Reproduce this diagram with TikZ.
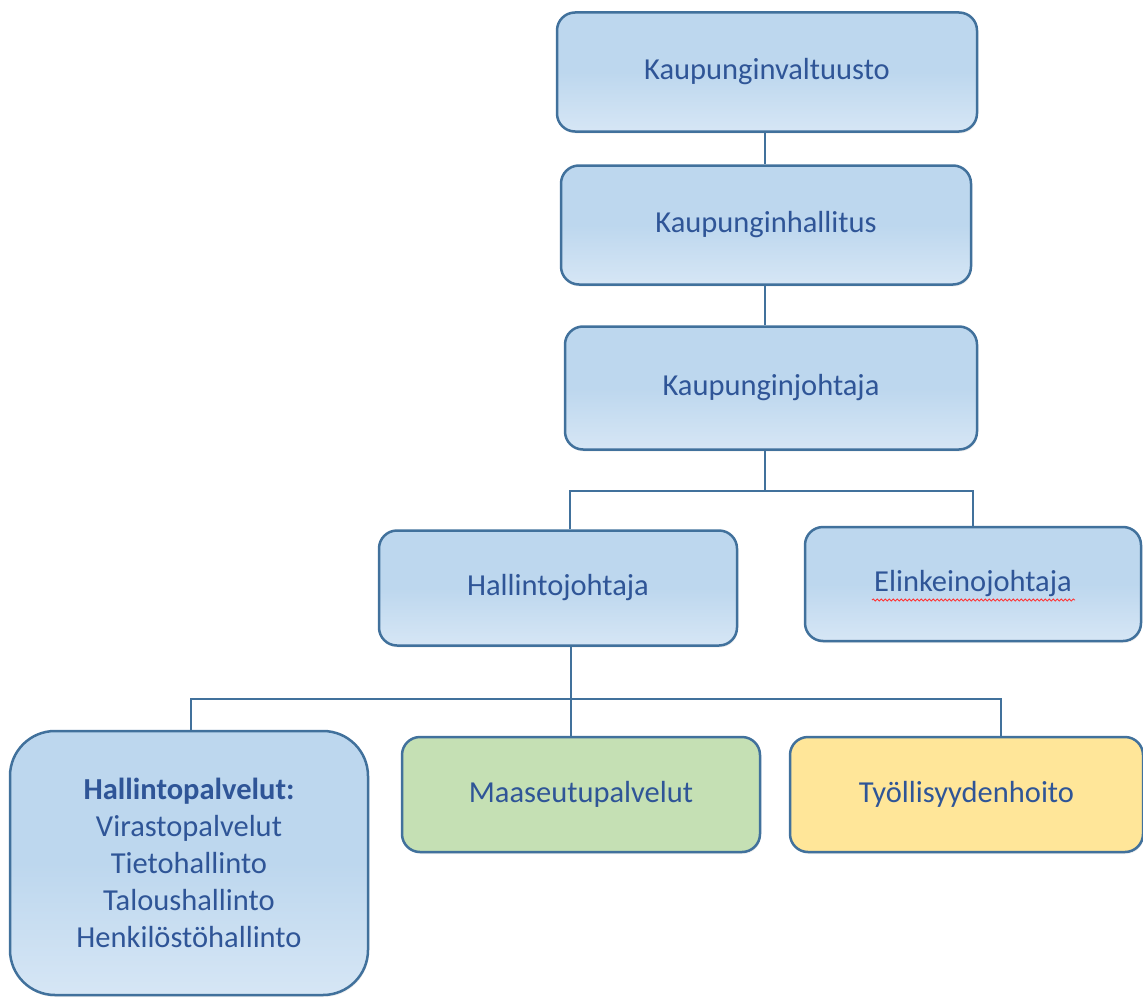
\documentclass[tikz,border=0pt]{standalone}
\usepackage{fontspec}
\setmainfont{Carlito}
\usetikzlibrary{decorations.pathmorphing,shadows}
\definecolor{bfill}{HTML}{BDD7EE}
\definecolor{bfilllight}{HTML}{D6E6F5}
\definecolor{gfill}{HTML}{C5E0B4}
\definecolor{yfill}{HTML}{FFE699}
\definecolor{bline}{HTML}{41719C}
\definecolor{tcol}{HTML}{2F5597}
\tikzset{
  orgbox/.style={draw=bline, line width=2.5pt, rounded corners=18pt,
    top color=bfill, bottom color=bfilllight, middle color=bfill,
    text=tcol, font=\fontsize{30.5}{37}\selectfont, align=center, inner sep=0pt,
    drop shadow={opacity=0.12, shadow xshift=1pt, shadow yshift=-2pt}},
  greenbox/.style={orgbox, top color=gfill, bottom color=gfill, middle color=gfill},
  yellowbox/.style={orgbox, top color=yfill, bottom color=yfill, middle color=yfill},
  conn/.style={draw=bline, line width=2.5pt},
  squiggle/.style={draw=red!80, line width=0.8pt, decorate,
    decoration={snake, amplitude=1.1pt, segment length=4pt}}
}
\begin{document}
\begin{tikzpicture}[x=1pt,y=-1pt]
\useasboundingbox (0,0) rectangle (1143,998);
\node[orgbox, minimum width=420pt, minimum height=119pt] (kv) at (767,72) {Kaupunginvaltuusto};
\node[orgbox, minimum width=410pt, minimum height=119pt] (kh) at (766,225) {Kaupunginhallitus};
\node[orgbox, minimum width=412pt, minimum height=123pt] (kj) at (771,388) {Kaupunginjohtaja};
\node[orgbox, minimum width=358pt, minimum height=115pt] (hj) at (558,588) {Hallintojohtaja};
\node[orgbox, minimum width=336pt, minimum height=114pt] (ej) at (973,584) {Elinkeinojohtaja};
\node[orgbox, rounded corners=45pt, minimum width=358pt, minimum height=264pt] (hp) at (189,863)
  {\textbf{Hallintopalvelut:}\\Virastopalvelut\\Tietohallinto\\Taloushallinto\\Henkilöstöhallinto};
\node[greenbox, minimum width=358pt, minimum height=115pt] (mp) at (581,794.5) {Maaseutupalvelut};
\node[yellowbox, minimum width=353pt, minimum height=115pt] (ty) at (966.5,794.5) {Työllisyydenhoito};

\coordinate (bus1) at (765,491);
\draw[conn] ([xshift=-2pt]kv.south) -- ([xshift=-1pt]kh.north);
\draw[conn] ([xshift=-1pt]kh.south) -- ([xshift=-6pt]kj.north);
\draw[conn] ([xshift=-6pt]kj.south) -- (bus1);
\draw[conn] ([xshift=12pt]hj.north) |- (ej.north |- bus1) -- (ej.north);
\draw[conn] ([xshift=13pt]hj.south) -- ++(0,52) coordinate (bus2);
\draw[conn] ([xshift=2pt]hp.north) |- ([xshift=34.5pt]ty.north |- bus2) -- ([xshift=34.5pt]ty.north);
\draw[conn] (bus2) -- ([xshift=-10pt]mp.north);

\draw[squiggle] ([xshift=-101pt,yshift=-16pt]ej.center) -- ([xshift=102pt,yshift=-16pt]ej.center);
\end{tikzpicture}
\end{document}
